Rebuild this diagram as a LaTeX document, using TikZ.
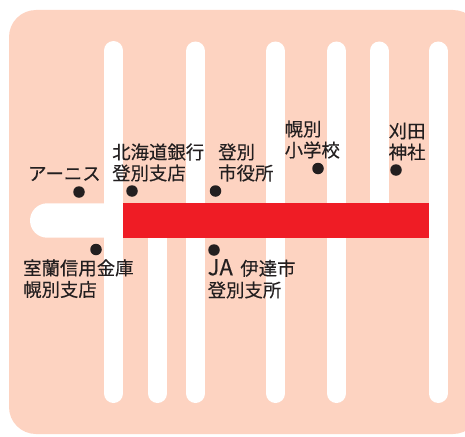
\documentclass[tikz,border=0pt]{standalone}
\usepackage{fontspec}
\setmainfont[RawFeature={embolden=0.25}]{Noto Sans CJK JP}
\definecolor{bgpeach}{HTML}{FDD3C1}
\definecolor{routered}{HTML}{EF1C25}
\definecolor{inkdark}{HTML}{231F20}
\tikzset{
  road/.style={line width=19pt,white,line cap=round},
  spot/.style={circle,fill=inkdark,inner sep=0pt,minimum size=11.5pt},
  lbl/.style={anchor=west,inner sep=0pt,font=\fontsize{18.4}{18}\selectfont,text=inkdark}
}
\begin{document}
\begin{tikzpicture}[x=1pt,y=-1pt]
\useasboundingbox (0,0) rectangle (465,436);
\fill[bgpeach,rounded corners=27pt] (9,10) rectangle (480,434);
% vertical roads
\draw[road] (113.5,50.5) -- (113.5,393.5);
\draw[road] (157.5,225) -- (157.5,393.5);
\draw[road] (195.5,51) -- (195.5,393.5);
\draw[road] (275.5,51) -- (275.5,393.5);
\draw[road] (336.5,51) -- (336.5,393.5);
\draw[road] (379,51) -- (379,220);
\draw[road] (438,51) -- (438,393.5);
% horizontal road
\fill[white,rounded corners=17.2pt] (30,203.3) rectangle (140,237.7);
\fill[routered] (123,203.3) rectangle (429,237.7);
% spots
\node[spot] (s1) at (79,192) {};
\node[spot] (s2) at (132,191) {};
\node[spot] (s3) at (215.5,191) {};
\node[spot] (s4) at (96,249.5) {};
\node[spot] (s5) at (214,250) {};
\node[spot] (s6) at (318,168.5) {};
\node[spot] (s7) at (396,170) {};
% labels
\node[lbl] (t1) at (28,174) {アーニス};
\node[lbl] (t2a) at (112,152) {北海道銀行};
\node[lbl] (t2b) at (112,173) {登別支店};
\node[lbl] (t3a) at (218,152) {登別};
\node[lbl] (t3b) at (218,173) {市役所};
\node[lbl] (t4a) at (23,268) {室蘭信用金庫};
\node[lbl] (t4b) at (23,289.5) {幌別支店};
\node[lbl] (t5a) at (207.5,268) {{\fontsize{22}{18}\selectfont JA}\hspace{7.5pt}伊達市};
\node[lbl] (t5b) at (207.5,290) {登別支所};
\node[lbl] (t6a) at (284.5,129) {幌別};
\node[lbl] (t6b) at (284.5,150) {小学校};
\node[lbl] (t7a) at (388.5,131) {刈田};
\node[lbl] (t7b) at (388.5,152) {神社};
\end{tikzpicture}
\end{document}
